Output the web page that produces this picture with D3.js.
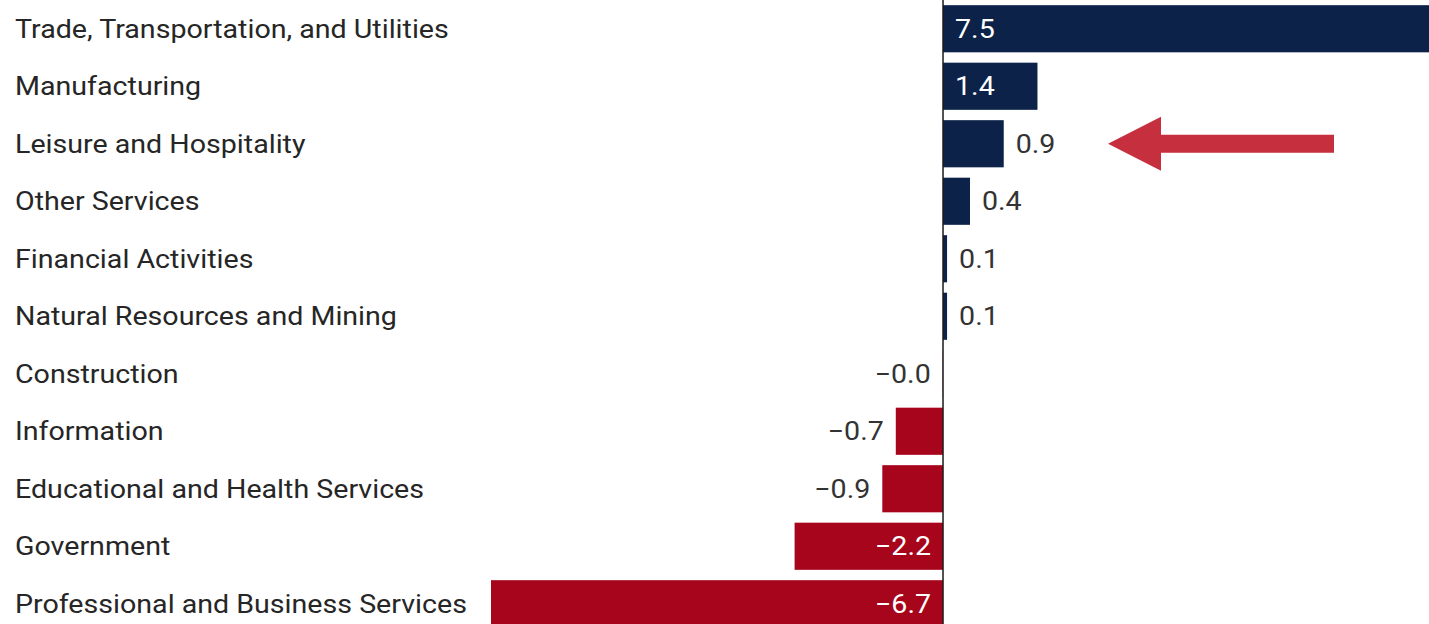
<!DOCTYPE html>
<html>
<head>
<meta charset="utf-8">
<script src="https://cdn.jsdelivr.net/npm/d3@7"></script>
<style>
  body { margin: 0; background: #fff; overflow: hidden; }
  text { font-family: Roboto, "Noto Sans", sans-serif; }
</style>
</head>
<body>
<div id="chart"></div>
<script>
// sectors and change values
var sectors = [
  "Trade, Transportation, and Utilities",
  "Manufacturing",
  "Leisure and Hospitality",
  "Other Services",
  "Financial Activities",
  "Natural Resources and Mining",
  "Construction",
  "Information",
  "Educational and Health Services",
  "Government",
  "Professional and Business Services"
];
var values = [7.5, 1.4, 0.9, 0.4, 0.06, 0.06, -0.004, -0.7, -0.9, -2.2, -6.7];
var highlighted = "Leisure and Hospitality";

var svgwidth = 1429;
var svgheight = 624;

var svg = d3.select("#chart")
  .append("svg")
  .attr("width", svgwidth)
  .attr("height", svgheight);

var data = sectors.map(function(s, i) { return { name: s, value: values[i] }; });

// zero at ~943px, -6.7 reaches ~491px
var xscale = d3.scaleLinear()
  .domain([-6.7, 7.5])
  .range([491, 1449]);

var yscale = d3.scaleBand()
  .domain(sectors)
  .range([0, 57.5 * sectors.length])
  .paddingInner(0.18)
  .paddingOuter(0.09);

var fmt = function(v) { return v.toFixed(1).replace("-", "\u2212"); };
var navy = "#0c2249";
var red = "#a6051c";
var stretch = 1.1; // the source text is a bit wider than plain Roboto

var rows = svg.selectAll("g.row")
  .data(data)
  .enter()
  .append("g")
  .attr("class", "row");

rows.append("text")
  .attr("transform", d => `translate(15, ${yscale(d.name) + yscale.bandwidth() / 2}) scale(${stretch}, 1)`)
  .attr("dy", "0.35em")
  .attr("font-size", 26)
  .attr("fill", "#262626")
  .text(d => d.name);

rows.append("rect")
  .attr("x", d => xscale(Math.min(0, d.value)))
  .attr("y", d => yscale(d.name))
  .attr("width", d => Math.abs(xscale(d.value) - xscale(0)))
  .attr("height", yscale.bandwidth())
  .attr("fill", d => d.value >= 0 ? navy : red);

function labelX(d) {
  var inside = Math.abs(d.value) >= 1;
  if (d.value >= 0) return inside ? xscale(0) + 12 : xscale(d.value) + 12;
  return inside ? xscale(0) - 12 : xscale(d.value) - 12;
}

rows.append("text")
  .attr("transform", d => `translate(${labelX(d)}, ${yscale(d.name) + yscale.bandwidth() / 2}) scale(${stretch}, 1)`)
  .attr("dy", "0.35em")
  .attr("font-size", 26)
  .attr("text-anchor", d => d.value >= 0 ? "start" : "end")
  .attr("fill", d => Math.abs(d.value) >= 1 ? "#ffffff" : "#333333")
  .text(d => fmt(d.value));

// zero line
svg.append("line")
  .attr("x1", xscale(0))
  .attr("x2", xscale(0))
  .attr("y1", 0)
  .attr("y2", svgheight)
  .attr("stroke", "#1a1a1a")
  .attr("stroke-width", 1.5);

// arrow pointing at the highlighted sector
var ay = yscale(highlighted) + yscale.bandwidth() / 2;
svg.append("path")
  .attr("d", "M1108," + ay + " L1161," + (ay - 27) + " L1161," + (ay - 9) +
    " L1334," + (ay - 9) + " L1334," + (ay + 9) + " L1161," + (ay + 9) +
    " L1161," + (ay + 27) + " Z")
  .attr("fill", "#c62f3e");
</script>
</body>
</html>
